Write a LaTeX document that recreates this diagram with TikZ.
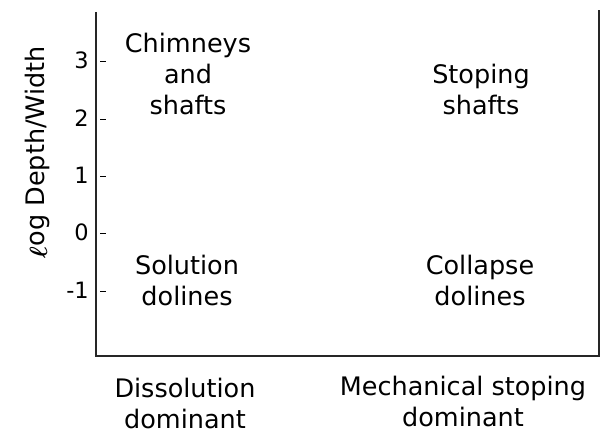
\documentclass[tikz,border=0pt]{standalone}
\usepackage{amsmath}
\usepackage{bm}
\usepackage{fontspec}
\setmainfont{DejaVu Sans}
\begin{document}
\begin{tikzpicture}[x=1pt,y=-1pt,
  lbl/.style={align=center,font=\fontsize{25.5}{31}\selectfont,inner sep=0pt},
  ticklbl/.style={anchor=east,font=\fontsize{22.5}{28}\selectfont,inner sep=0pt},
  axis/.style={line width=1.1pt,black!85},
  tickmark/.style={line width=1pt}]
\useasboundingbox (0,0) rectangle (606,435);
\coordinate (tl) at (96,12);
\coordinate (bl) at (96,356);
\coordinate (br) at (599,356);
\coordinate (tr) at (599,10);
\draw[axis] (tl) -- (bl) -- (br) -- (tr);
\foreach \v/\y in {3/60,2/118,1/175,0/232,-1/290}{
  \node[ticklbl] (t\y) at (89,\y) {\v};
  \coordinate (a\y) at (100,\y+2);
  \coordinate (b\y) at (106,\y+2);
  \draw[tickmark] (a\y) -- (b\y);
}
\node[lbl] (chim) at (188,74) {Chimneys\\and\\shafts};
\node[lbl] (stop) at (481,89) {Stoping\\shafts};
\node[lbl] (sol) at (187,280) {Solution\\dolines};
\node[lbl] (col) at (480,280) {Collapse\\dolines};
\node[lbl] (diss) at (185,403) {Dissolution\\dominant};
\node[lbl] (mech) at (463,401) {Mechanical stoping\\dominant};
\node[rotate=90,inner sep=0pt,font=\fontsize{25.5}{28}\selectfont] (ylab) at (37,152) {\raisebox{-3pt}{\fontsize{38}{38}\selectfont$\bm{\ell}$}og Depth/Width};
\end{tikzpicture}
\end{document}
